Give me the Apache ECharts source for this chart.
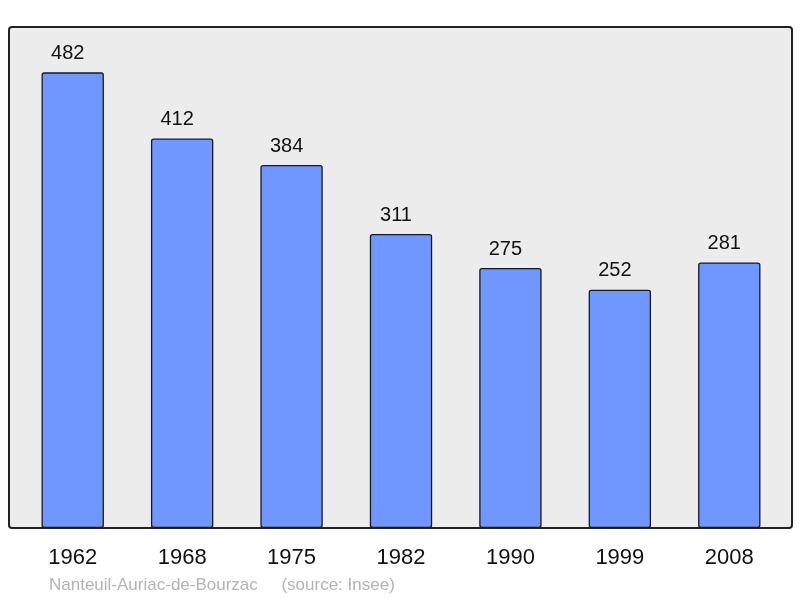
<!DOCTYPE html>
<html>
<head>
<meta charset="utf-8">
<script src="https://cdn.jsdelivr.net/npm/echarts@6/dist/echarts.min.js"></script>
<style>
  html, body { margin: 0; padding: 0; background: #fff; }
  #chart { width: 800px; height: 598px; }
</style>
</head>
<body>
<div id="chart"></div>
<script>
var years = ['1962', '1968', '1975', '1982', '1990', '1999', '2008'];
var population = [482, 412, 384, 311, 275, 252, 281];
var footer = 'Nanteuil-Auriac-de-Bourzac     (source: Insee)';

var chart = echarts.init(document.getElementById('chart'));
var option = {
	backgroundColor: '#ffffff',
	animation: false,
	textStyle: { fontFamily: 'Liberation Sans, Arial, sans-serif' },
	graphic: [{
		type: 'rect',
		z: -10,
		shape: { x: 9, y: 27, width: 783, height: 501, r: 3 },
		style: { fill: '#ececec', stroke: '#222222', lineWidth: 2 }
	}, {
		type: 'text',
		left: 49,
		top: 577,
		style: {
			text: footer,
			fill: '#b4b4b4',
			font: '17px "Liberation Sans", Arial, sans-serif'
		}
	}],
	grid: { left: 18, right: 16, top: 27, bottom: 70 },
	xAxis: {
		type: 'category',
		data: years,
		axisLine: { show: false },
		axisTick: { show: false },
		axisLabel: { color: '#111', fontSize: 22, margin: 19 }
	},
	yAxis: {
		type: 'value',
		min: 0,
		max: 530,
		show: false,
		splitLine: { show: false }
	},
	series: [{
		type: 'bar',
		data: population,
		barWidth: '57%',
		itemStyle: {
			color: '#7096ff',
			borderColor: '#1a1a1a',
			borderWidth: 1.3,
			borderRadius: 2
		},
		label: {
			show: true,
			position: 'top',
			distance: 9,
			offset: [-5, 0],
			color: '#111',
			fontSize: 20
		}
	}]
};
chart.setOption(option);
</script>
</body>
</html>
